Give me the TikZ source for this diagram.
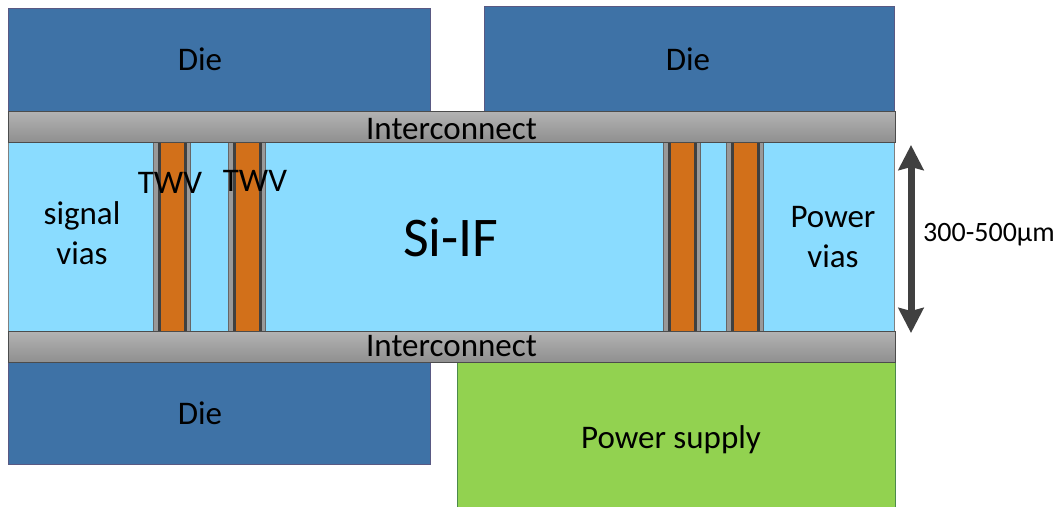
\documentclass[tikz,border=0pt]{standalone}
\usepackage{fontspec}
\setmainfont{Carlito}
\usetikzlibrary{arrows.meta}

\tikzset{
box/.style={draw, line width=1pt, inner sep=0pt, anchor=north west},
die/.style={box, draw=black!45!blue!30!gray, fill=diecol},
bar/.style={box, draw=black!70, top color=black!30, bottom color=black!44},
lbl/.style={inner sep=0pt, font=\fontsize{33}{38}\selectfont, align=center},
}
\definecolor{diecol}{HTML}{3E72A6}
\definecolor{sicol}{HTML}{8ADCFF}
\definecolor{supcol}{HTML}{92D250}
\definecolor{twvcol}{HTML}{D2701A}
\definecolor{arrcol}{HTML}{404040}

\begin{document}
\begin{tikzpicture}[x=1pt,y=-1pt]
\useasboundingbox (0,0) rectangle (1062,506);

\node[box, draw=black!50, fill=sicol, minimum width=886pt, minimum height=189pt] (si) at (8,142) {};
\node[font=\fontsize{56}{66}\selectfont, inner sep=0pt] (siif) at (451,237) {Si-IF};

\foreach \n/\x in {a/153,b/228,c/663,d/726} {
  \node[box, draw=black!60, fill=black!40, minimum width=37pt, minimum height=189pt] (grey\n) at (\x,142) {};
  \node[box, draw=none, fill=arrcol, minimum width=29pt, minimum height=189pt] (dark\n) at (\x+4,142) {};
  \node[box, draw=none, fill=twvcol, minimum width=23pt, minimum height=189pt] (core\n) at (\x+7,142) {};
}

\node[die, minimum width=422pt, minimum height=103pt] (dieA) at (8,8) {};
\node[die, minimum width=410pt, minimum height=105pt] (dieB) at (484,6) {};
\node[die, minimum width=422pt, minimum height=102pt] (dieC) at (8,362) {};
\node[box, draw=black!40!green!40!gray, fill=supcol, minimum width=438pt, minimum height=146pt] (supply) at (457,362) {};

\node[lbl] (dieAtext) at (200,59) {Die};
\node[lbl] (dieBtext) at (688,59) {Die};
\node[lbl] (dieCtext) at (200,413) {Die};
\node[lbl] (supplytext) at (671,440) {Power supply};

\node[bar, minimum width=887pt, minimum height=31pt] (topbar) at (8,111) {};
\node[bar, minimum width=887pt, minimum height=31pt] (botbar) at (8,331) {};
\node[lbl] (toptext) at (451.5,129) {Interconnect};
\node[lbl] (bottext) at (451.5,346) {Interconnect};

\node[lbl] (twvA) at (170,183) {TWV};
\node[lbl] (twvB) at (255,181) {TWV};
\node[lbl] (sig) at (82,233) {signal\\[2pt]vias};
\node[lbl] (pow) at (833,237) {Power\\[2pt]vias};

\coordinate (arrtop) at (911,145);
\coordinate (arrbot) at (911,333);
\draw[line width=7pt, arrcol, {Stealth[length=25pt,width=25pt,inset=3pt]}-{Stealth[length=25pt,width=25pt,inset=3pt]}] (arrtop) -- (arrbot);
\node[lbl, font=\fontsize{28}{34}\selectfont, anchor=west] (span) at (923,235) {300-500µm};
\end{tikzpicture}
\end{document}
